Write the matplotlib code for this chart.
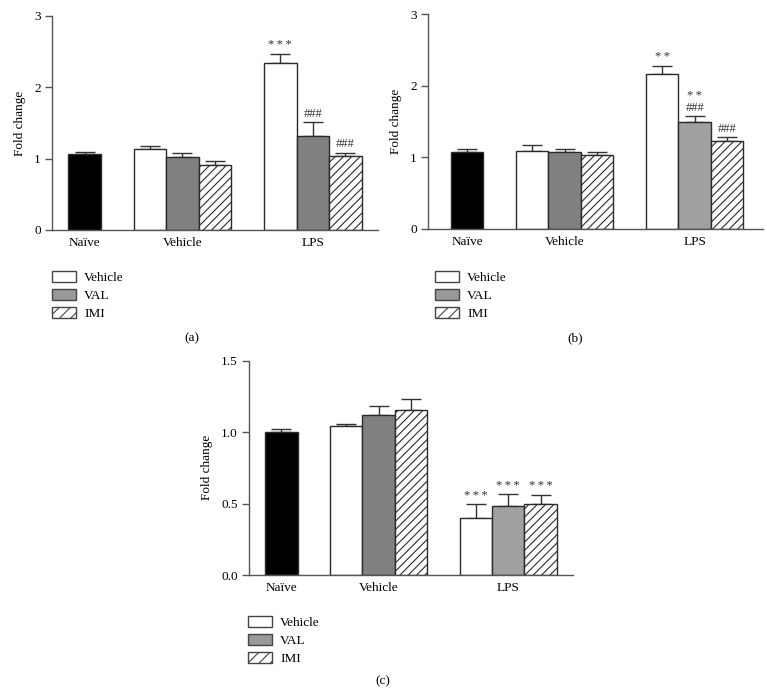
import numpy as np
import matplotlib.pyplot as plt
from matplotlib.patches import Patch

plt.rcParams['font.family'] = ['Liberation Serif', 'DejaVu Serif']
plt.rcParams['hatch.linewidth'] = 0.8

# dados (fold change)
grupos = ['Naïve', 'Vehicle', 'LPS']
series = ['Vehicle', 'VAL', 'IMI']

# painel (a)
a_naive = 1.06
a_naive_err = 0.03
a_vehicle = [1.13, 1.02, 0.91]
a_vehicle_err = [0.05, 0.06, 0.06]
a_lps = [2.34, 1.32, 1.04]
a_lps_err = [0.13, 0.19, 0.04]
a_marcas = [['***'], ['###'], ['###']]

# painel (b)
b_naive = 1.08
b_naive_err = 0.03
b_vehicle = [1.09, 1.07, 1.03]
b_vehicle_err = [0.08, 0.05, 0.05]
b_lps = [2.16, 1.49, 1.23]
b_lps_err = [0.12, 0.08, 0.05]
b_marcas = [['**'], ['###', '**'], ['###']]

# painel (c)
c_naive = 1.00
c_naive_err = 0.02
c_vehicle = [1.04, 1.12, 1.155]
c_vehicle_err = [0.02, 0.06, 0.075]
c_lps = [0.40, 0.48, 0.50]
c_lps_err = [0.095, 0.085, 0.06]
c_marcas = [['***'], ['***'], ['***']]

W, H = 767, 695
fig = plt.figure(figsize=(W / 100, H / 100), dpi=100)

cor_val_veh = '#808080'
cor_borda = '#2a2a2a'


def painel(rect, naive, naive_err, veh, veh_err, lps, lps_err, marcas,
           ylim, yticks, yfmt, xlim, cor_val_lps):
    ax = fig.add_axes(rect)
    x_naive = 1
    x_veh = np.array([3, 4, 5])
    x_lps = np.array([7, 8, 9])
    kw = dict(width=1.0, edgecolor=cor_borda, linewidth=1.0, zorder=2)
    ax.bar(x_naive, naive, color='black', **kw)
    cores_veh = ['white', cor_val_veh, 'white']
    cores_lps = ['white', cor_val_lps, 'white']
    hatches = [None, None, '////']
    for i in range(3):
        ax.bar(x_veh[i], veh[i], color=cores_veh[i], hatch=hatches[i], **kw)
        ax.bar(x_lps[i], lps[i], color=cores_lps[i], hatch=hatches[i], **kw)
    xs = np.concatenate([[x_naive], x_veh, x_lps])
    vals = np.concatenate([[naive], veh, lps])
    errs = np.concatenate([[naive_err], veh_err, lps_err])
    ax.errorbar(xs, vals, yerr=[np.zeros_like(errs), errs], fmt='none',
                ecolor='#333333', elinewidth=1.0, capsize=7, capthick=1.0, zorder=1)
    # marcas de significância
    span = ylim[1] - ylim[0]
    for i, m in enumerate(marcas):
        topo = lps[i] + lps_err[i] + 0.012 * span
        for j, s in enumerate(m):
            if s.startswith('*'):
                s = '\u2009'.join(s)
            ax.text(x_lps[i], topo + j * 0.055 * span, s, ha='center', va='bottom',
                    fontsize=9, color='#333333')
    ax.set_xlim(*xlim)
    ax.set_ylim(*ylim)
    ax.set_yticks(yticks)
    ax.set_yticklabels([yfmt.format(t) for t in yticks])
    ax.set_xticks([x_naive, 4, 8])
    ax.set_xticklabels(grupos)
    ax.tick_params(axis='x', length=0, labelsize=9.5, pad=5)
    ax.tick_params(axis='y', length=5, width=1, color='#555555', labelsize=9.5, pad=3)
    for s in ['top', 'right']:
        ax.spines[s].set_visible(False)
    for s in ['left', 'bottom']:
        ax.spines[s].set_color('#555555')
        ax.spines[s].set_linewidth(1.0)
    ax.set_ylabel('Fold change', fontsize=9.5, labelpad=6)
    return ax


def legenda(x, y, cor_val):
    handles = [Patch(facecolor='white', edgecolor='#444444', linewidth=1.0),
               Patch(facecolor=cor_val, edgecolor='#444444', linewidth=1.0),
               Patch(facecolor='white', edgecolor='#444444', hatch='///', linewidth=1.0)]
    fig.legend(handles, series, loc='upper left', bbox_to_anchor=(x / W, 1 - y / H),
               frameon=False, fontsize=9.5, borderpad=0, borderaxespad=0,
               handlelength=1.8, handleheight=0.95, labelspacing=0.35,
               handletextpad=0.65)


painel([52 / W, 1 - 230 / H, 326 / W, 214 / H], a_naive, a_naive_err,
       a_vehicle, a_vehicle_err, a_lps, a_lps_err, a_marcas,
       (0, 3), [0, 1, 2, 3], '{:.0f}', (0, 10), cor_val_veh)
painel([428 / W, 1 - 228.7 / H, 335 / W, 214.4 / H], b_naive, b_naive_err,
       b_vehicle, b_vehicle_err, b_lps, b_lps_err, b_marcas,
       (0, 3), [0, 1, 2, 3], '{:.0f}', (-0.2, 10.1), '#a0a0a0')
painel([249 / W, 1 - 575 / H, 324 / W, 214.3 / H], c_naive, c_naive_err,
       c_vehicle, c_vehicle_err, c_lps, c_lps_err, c_marcas,
       (0, 1.5), [0, 0.5, 1.0, 1.5], '{:.1f}', (0, 10), '#a0a0a0')

legenda(52, 271, '#999999')
legenda(435, 271, '#999999')
legenda(248, 616, '#999999')

fig.text(192 / W, 1 - 338 / H, '(a)', ha='center', va='center', fontsize=9.5)
fig.text(575 / W, 1 - 338 / H, '(b)', ha='center', va='center', fontsize=9.5)
fig.text(383 / W, 1 - 681 / H, '(c)', ha='center', va='center', fontsize=9.5)

fig.savefig('out.png', dpi=100, facecolor='white')
